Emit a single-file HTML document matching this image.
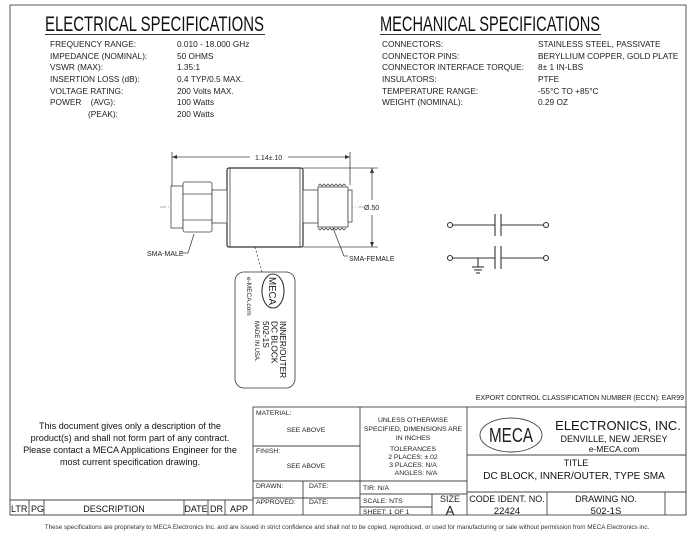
<!DOCTYPE html>
<html><head><meta charset="utf-8"><style>
html,body{margin:0;padding:0;background:#fff}
svg{display:block;font-family:"Liberation Sans",Arial,sans-serif}
</style></head><body>
<svg width="695" height="537" viewBox="0 0 695 537" xmlns="http://www.w3.org/2000/svg">
<g fill="none" stroke="#555" stroke-width="1">
<path d="M10 515 V5 H686 V515"/>
</g>
<!-- Electrical -->
<text x="45" y="31" font-size="21.5" fill="#111" textLength="219" lengthAdjust="spacingAndGlyphs">ELECTRICAL SPECIFICATIONS</text>
<line x1="45" y1="34.5" x2="265" y2="34.5" stroke="#333"/>
<g font-size="8.3" fill="#222">
<text x="50" y="47">FREQUENCY RANGE:</text><text x="177" y="47">0.010 - 18.000 GHz</text>
<text x="50" y="59">IMPEDANCE (NOMINAL):</text><text x="177" y="59">50 OHMS</text>
<text x="50" y="70">VSWR (MAX):</text><text x="177" y="70">1.35:1</text>
<text x="50" y="82">INSERTION LOSS (dB):</text><text x="177" y="82">0.4 TYP/0.5 MAX.</text>
<text x="50" y="94">VOLTAGE RATING:</text><text x="177" y="94">200 Volts MAX.</text>
<text x="50" y="105">POWER&#160;&#160;&#160;&#160;(AVG):</text><text x="177" y="105">100 Watts</text>
<text x="88" y="117">(PEAK):</text><text x="177" y="117">200 Watts</text>
</g>
<!-- Mechanical -->
<text x="380" y="31" font-size="21.5" fill="#111" textLength="220" lengthAdjust="spacingAndGlyphs">MECHANICAL SPECIFICATIONS</text>
<line x1="380" y1="34.5" x2="601" y2="34.5" stroke="#333"/>
<g font-size="8.3" fill="#222">
<text x="382" y="47">CONNECTORS:</text><text x="538" y="47">STAINLESS STEEL, PASSIVATE</text>
<text x="382" y="59">CONNECTOR PINS:</text><text x="538" y="59">BERYLLIUM COPPER, GOLD PLATE</text>
<text x="382" y="70">CONNECTOR INTERFACE TORQUE:</text><text x="538" y="70">8± 1 IN-LBS</text>
<text x="382" y="82">INSULATORS:</text><text x="538" y="82">PTFE</text>
<text x="382" y="94">TEMPERATURE RANGE:</text><text x="538" y="94">-55°C TO +85°C</text>
<text x="382" y="105">WEIGHT (NOMINAL):</text><text x="538" y="105">0.29 OZ</text>
</g>
<!-- Drawing -->
<g stroke="#444" stroke-width="0.8" fill="none">
<line x1="172" y1="152" x2="172" y2="205"/><line x1="350" y1="152" x2="350" y2="185"/>
<line x1="172" y1="157" x2="250" y2="157"/><line x1="288" y1="157" x2="350" y2="157"/>
<line x1="303" y1="168" x2="378" y2="168"/><line x1="303" y1="247" x2="378" y2="247"/>
<line x1="372" y1="168" x2="372" y2="200"/><line x1="372" y1="215" x2="372" y2="247"/>
<line x1="160" y1="207" x2="365" y2="207" stroke-dasharray="6 2 1 2" stroke="#999"/>
<rect x="227" y="168" width="76" height="79" rx="2" stroke="#333" stroke-width="1.2" fill="#fff"/>
<line x1="230" y1="168" x2="230" y2="247"/><line x1="300" y1="168" x2="300" y2="247"/>
<rect x="171" y="186" width="12" height="42" fill="#fff"/>
<rect x="183" y="182" width="29" height="50" rx="2" fill="#fff"/>
<line x1="183" y1="194" x2="212" y2="194"/><line x1="183" y1="220" x2="212" y2="220"/>
<rect x="212" y="190" width="15" height="33" fill="#fff"/>
<rect x="303" y="190" width="15" height="33" fill="#fff"/>
<rect x="318" y="187" width="30" height="40" fill="#fff"/>
<path d="M318 186 l2 -2 l2 2 l2 -2 l2 2 l2 -2 l2 2 l2 -2 l2 2 l2 -2 l2 2 l2 -2 l2 2 l2 -2 l2 2 M318 228 l2 2 l2 -2 l2 2 l2 -2 l2 2 l2 -2 l2 2 l2 -2 l2 2 l2 -2 l2 2 l2 -2 l2 2 l2 -2"/>
<rect x="348" y="190" width="4" height="32" fill="#fff"/>
<path d="M181 253 H188 L194 234"/>
<path d="M333 228 L344 256 H348"/>
<line x1="255" y1="247" x2="262" y2="272" stroke-dasharray="2 2"/>
<rect x="235" y="272" width="60" height="116" rx="9" stroke="#333"/>
<ellipse cx="273" cy="291" rx="11" ry="17" stroke="#333" stroke-width="1.1"/>
</g>
<g fill="#333">
<path d="M172 157 l5 -2 v4z M350 157 l-5 -2 v4z M372 168 l-2 5 h4z M372 247 l-2 -5 h4z"/>
</g>
<g font-size="7" fill="#222">
<text x="255" y="160">1.14±.10</text>
<text x="364" y="210">Ø.50</text>
<text x="147" y="256">SMA-MALE</text>
<text x="349" y="261">SMA-FEMALE</text>
</g>
<g transform="translate(273,291) rotate(90)" fill="#222"><text x="0" y="4" text-anchor="middle" font-size="10" textLength="28" lengthAdjust="spacingAndGlyphs">MECA</text></g>
<g transform="translate(247,277) rotate(90)" fill="#222">
<text x="0" y="0" font-size="6.5">e-MECA.com</text>
</g>
<g transform="translate(280,321) rotate(90)" fill="#111" font-size="8.3">
<text x="0" y="0">INNER/OUTER</text>
<text x="0" y="8.5">DC BLOCK</text>
<text x="0" y="17">502-1S</text>
<text x="0" y="25" font-size="6">MADE IN USA.</text>
</g>
<!-- schematic -->
<g stroke="#333" stroke-width="1.1" fill="#fff">
<line x1="452" y1="225" x2="495" y2="225"/><line x1="501" y1="225" x2="544" y2="225"/>
<line x1="452" y1="258" x2="495" y2="258"/><line x1="501" y1="258" x2="544" y2="258"/>
<line x1="495" y1="214" x2="495" y2="236"/><line x1="501" y1="214" x2="501" y2="236"/>
<line x1="495" y1="246" x2="495" y2="269"/><line x1="501" y1="246" x2="501" y2="269"/>
<line x1="478" y1="258" x2="478" y2="267"/>
<line x1="472" y1="267" x2="484" y2="267"/><line x1="474" y1="270" x2="482" y2="270"/><line x1="476" y1="273" x2="480" y2="273"/>
<circle cx="450" cy="225" r="2.5"/><circle cx="546" cy="225" r="2.5"/>
<circle cx="450" cy="258" r="2.5"/><circle cx="546" cy="258" r="2.5"/>
</g>
<text x="684" y="400" font-size="7" fill="#222" text-anchor="end">EXPORT CONTROL CLASSIFICATION NUMBER (ECCN): EAR99</text>
<!-- left note -->
<g font-size="9.1" fill="#111" text-anchor="middle">
<text x="130" y="429">This document gives only a description of the</text>
<text x="130" y="441">product(s) and shall not form part of any contract.</text>
<text x="130" y="453">Please contact a MECA Applications Engineer for the</text>
<text x="130" y="465">most current specification drawing.</text>
</g>
<!-- revision row -->
<g stroke="#444" stroke-width="0.9" fill="none">
<path d="M10 500 H253 M10 515 H253 M29 500 V515 M44 500 V515 M184 500 V515 M208 500 V515 M225 500 V515"/>
</g>
<g font-size="9" fill="#111">
<text x="11" y="512">LTR</text><text x="31" y="512">PG</text><text x="114" y="512" text-anchor="middle">DESCRIPTION</text>
<text x="196" y="512" text-anchor="middle">DATE</text><text x="216.5" y="512" text-anchor="middle">DR</text><text x="239" y="512" text-anchor="middle">APP</text>
</g>
<!-- title block -->
<g stroke="#444" stroke-width="0.9" fill="none">
<rect x="253" y="407" width="433" height="108"/>
<path d="M253 446 H360 M253 481 H467 M360 494 H467 M360 507 H432 M303 481 V515 M253 498 H360 M360 407 V515 M432 494 V515 M467 407 V515 M467 455 H686 M467 492 H686 M547 492 V515 M665 492 V515"/>
<ellipse cx="511" cy="435" rx="31" ry="17"/>
</g>
<text x="511" y="442" font-size="20" fill="#222" text-anchor="middle" textLength="44" lengthAdjust="spacingAndGlyphs">MECA</text>
<g font-size="6.8" fill="#222">
<text x="256" y="415">MATERIAL:</text><text x="306" y="432" text-anchor="middle">SEE ABOVE</text>
<text x="256" y="453">FINISH:</text><text x="306" y="468" text-anchor="middle">SEE ABOVE</text>
<text x="256" y="488">DRAWN:</text><text x="309" y="488">DATE:</text>
<text x="256" y="504">APPROVED:</text><text x="309" y="504">DATE:</text>
<text x="413" y="422" text-anchor="middle">UNLESS OTHERWISE</text>
<text x="413" y="431" text-anchor="middle">SPECIFIED, DIMENSIONS ARE</text>
<text x="413" y="440" text-anchor="middle">IN INCHES</text>
<text x="413" y="451" text-anchor="middle">TOLERANCES</text>
<text x="413" y="459" text-anchor="middle">2 PLACES: ±.02</text>
<text x="413" y="467" text-anchor="middle">3 PLACES: N/A</text>
<text x="416" y="475" text-anchor="middle">ANGLES: N/A</text>
<text x="363" y="490">TIR: N/A</text>
<text x="363" y="503">SCALE: NTS</text>
<text x="363" y="514">SHEET: 1 OF 1</text>
</g>
<text x="450" y="502" font-size="9" fill="#222" text-anchor="middle">SIZE</text>
<text x="450" y="515" font-size="13" fill="#222" text-anchor="middle">A</text>
<text x="618" y="430" font-size="13" fill="#111" text-anchor="middle">ELECTRONICS, INC.</text>
<text x="614" y="442" font-size="9" fill="#111" text-anchor="middle">DENVILLE, NEW JERSEY</text>
<text x="614" y="452" font-size="8.5" fill="#111" text-anchor="middle">e-MECA.com</text>
<text x="576" y="466" font-size="9" fill="#111" text-anchor="middle">TITLE</text>
<text x="574" y="479" font-size="10" fill="#111" text-anchor="middle">DC BLOCK, INNER/OUTER, TYPE SMA</text>
<text x="507" y="502" font-size="9" fill="#111" text-anchor="middle">CODE IDENT. NO.</text>
<text x="507" y="514" font-size="9.5" fill="#111" text-anchor="middle">22424</text>
<text x="606" y="502" font-size="9" fill="#111" text-anchor="middle">DRAWING NO.</text>
<text x="606" y="514" font-size="9.5" fill="#111" text-anchor="middle">502-1S</text>
<text x="347" y="529" font-size="6.3" fill="#333" text-anchor="middle">These specifications are proprietary to MECA Electronics Inc. and are  issued in strict confidence and shall not to be copied, reproduced, or used for manufacturing or sale without permission from MECA Electronics inc.</text>
</svg>
</body></html>
